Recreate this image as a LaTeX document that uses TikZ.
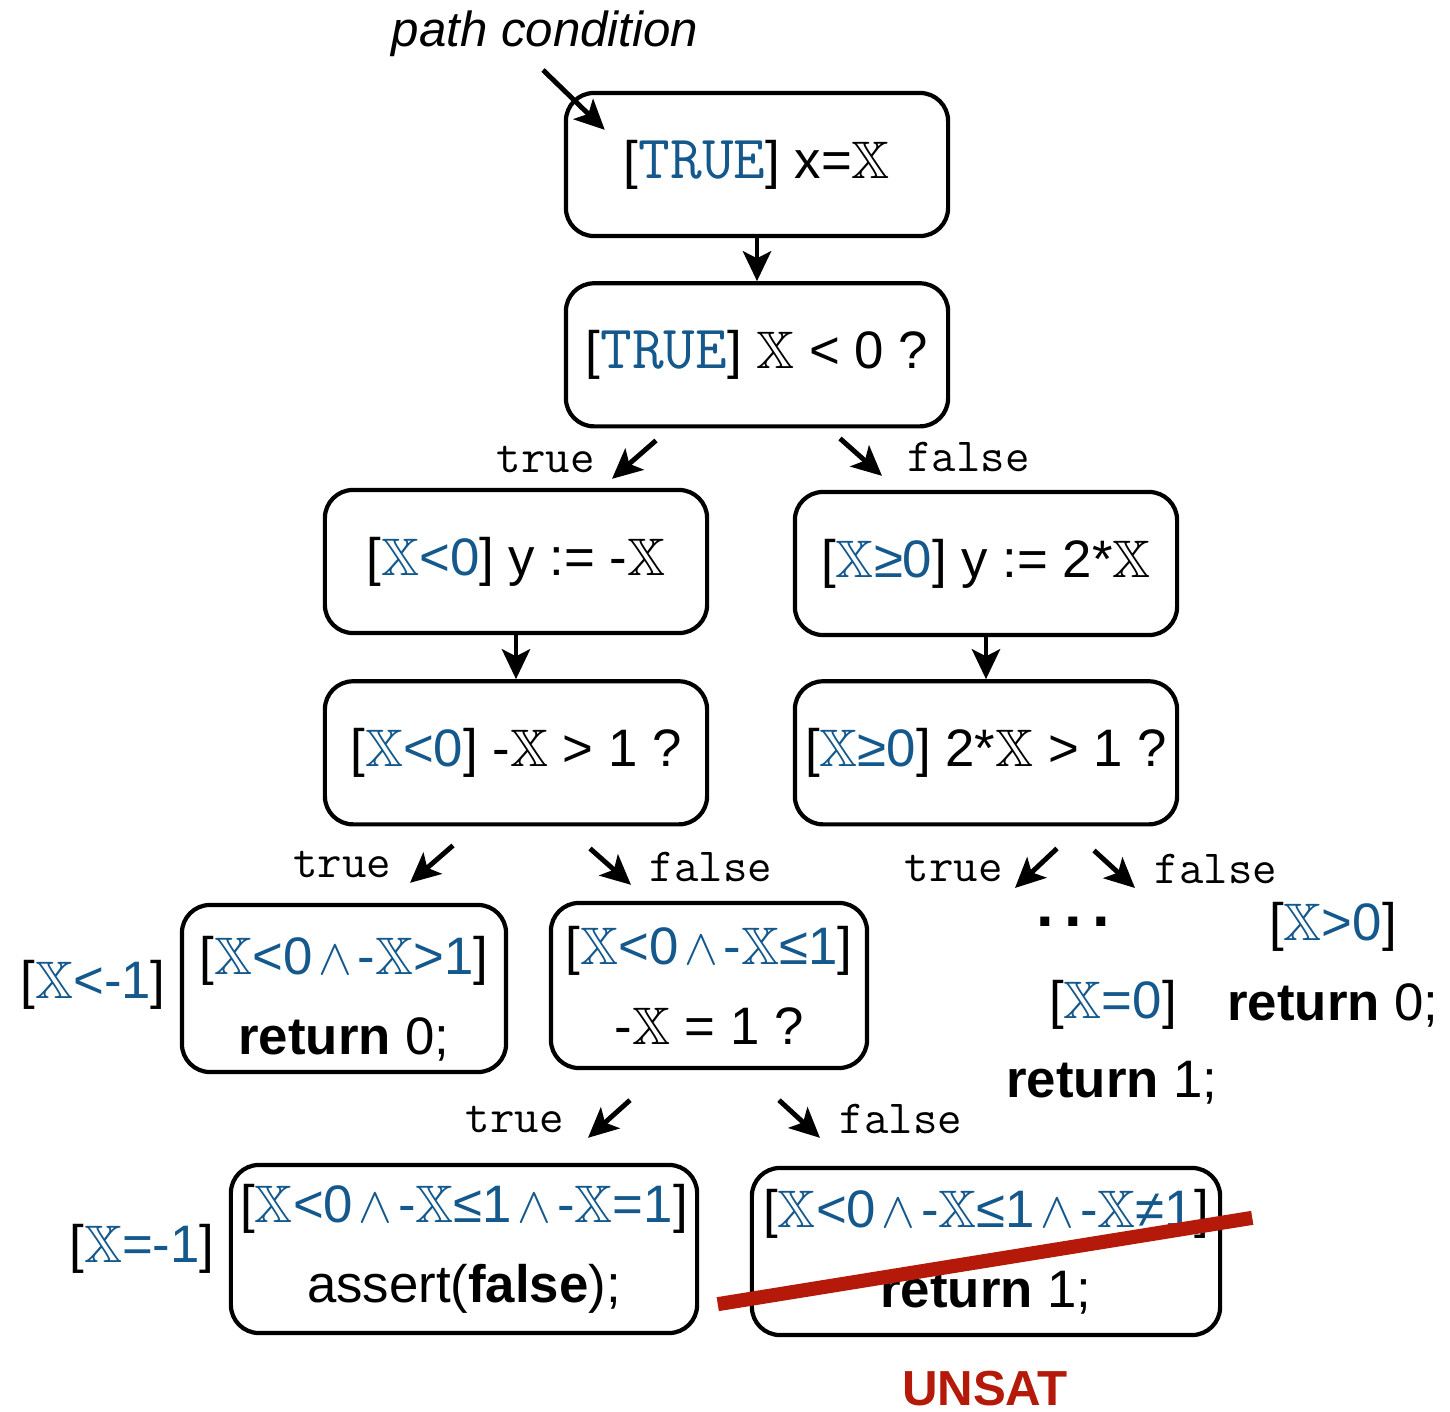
\documentclass[tikz,border=0pt]{standalone}
\usepackage{fontspec}
\setmainfont{Liberation Sans}
\usepackage{amssymb}
\usetikzlibrary{arrows.meta,positioning}

\definecolor{condblue}{RGB}{20,88,140}
\definecolor{unsatred}{RGB}{180,25,10}
\newcommand{\symX}{\ensuremath{\mathbb{X}}}
\newcommand{\andop}{\ensuremath{\mkern2mu\wedge\mkern2mu}}
\newcommand{\pcond}[1]{[\textcolor{condblue}{#1}]}
\newcommand{\tval}[1]{{\fontsize{17.5}{20}\selectfont\ttfamily #1}}

\begin{document}
\begin{tikzpicture}[
  x=0.01cm, y=-0.01cm,
  font=\fontsize{15}{22.8}\selectfont,
  box/.style={draw, line width=1.2pt, rounded corners=8pt, align=center, minimum width=3.82cm, minimum height=1.43cm, inner sep=2pt},
  side/.style={inner sep=1pt},
  arr/.style={-{Stealth[length=8.5pt,width=8pt,inset=2pt]}, line width=1.4pt},
  lbl/.style={font=\fontsize{13.5}{16}\selectfont\ttfamily, inner sep=0pt},
  strike/.style={draw=unsatred, line width=4pt}
]
\useasboundingbox (0,0) rectangle (1450,1412);

\node[font=\fontsize{14}{16}\selectfont\itshape] (pc) at (545,34) {path condition};
\node[box] (init) at (757,164.5) {\pcond{\tval{TRUE}} x=\symX};
\node[box, below=0.43cm of init] (test1) {\pcond{\tval{TRUE}} \symX{} < 0 ?};
\node[box] (neg) at (516,561.5) {\pcond{\symX<0} y := -\symX};
\node[box] (dbl) at (986,563.5) {\pcond{\symX≥0} y := 2*\symX};
\node[box, below=0.44cm of neg] (test2) {\pcond{\symX<0} -\symX{} > 1 ?};
\node[box, below=0.42cm of dbl] (test3) {\pcond{\symX≥0} 2*\symX{} > 1 ?};

% leaves of the left branch
\node[box, minimum width=3.24cm, minimum height=1.67cm] (ret0a) at (344,988.5) {\rule{0pt}{0.58cm}\pcond{\symX<0\andop-\symX>1}\\\textbf{return} 0;};
\node[side, left=0.1cm of ret0a, yshift=0.04cm] (ltm1) {\pcond{\symX<-1}};
\node[box, minimum width=3.16cm, minimum height=1.65cm] (test4) at (709,985.5) {\pcond{\symX<0\andop-\symX≤1}\\-\symX{} = 1 ?};
\node[box, minimum width=4.66cm, minimum height=1.68cm] (fail) at (464,1249) {\pcond{\symX<0\andop-\symX≤1\andop-\symX=1}\\assert(\textbf{false});};
\node[side, left=0.1cm of fail] (eqm1) {\pcond{\symX=-1}};
\node[box, minimum width=4.68cm, minimum height=1.67cm] (ret1b) at (986,1251.5) {\pcond{\symX<0\andop-\symX≤1\andop-\symX≠1}\\\textbf{return} 1;};
\node[font=\fontsize{14}{16}\selectfont\bfseries, text=unsatred] (unsat) at (985,1389) {UNSAT};

% right branch, not expanded
\node[font=\fontsize{18}{18}\selectfont\bfseries] (dots) at (1073,922) {.\,.\,.};
\node (gtz) at (1333,927) {\pcond{\symX>0}};
\node (eqz) at (1113,1005) {\pcond{\symX=0}};
\node (ret0b) at (1333,1005) {\textbf{return} 0;};
\node (ret1a) at (1112,1083) {\textbf{return} 1;};

\draw[arr] ([shift={(-2,36)}]pc.center) -- ([shift={(41,39)}]init.north west);
\draw[arr] (init) -- (test1);
\draw[arr] ([shift={(-101,12)}]test1.south) -- node[lbl, anchor=east, xshift=-0.37cm]{true} ([shift={(96,-9)}]neg.north);
\draw[arr] ([shift={(83,10)}]test1.south) -- node[lbl, anchor=west, xshift=0.44cm]{false} ([shift={(-104,-14)}]dbl.north);
\draw[arr] (neg) -- (test2);
\draw[arr] (dbl) -- (test3);
\draw[arr] ([shift={(-63,19)}]test2.south) -- node[lbl, anchor=east, xshift=-0.38cm]{true} ([shift={(66,-20)}]ret0a.north);
\draw[arr] ([shift={(74,22)}]test2.south) -- node[lbl, anchor=west, xshift=0.37cm]{false} ([shift={(-78,-16)}]test4.north);
\draw[arr] ([shift={(71,22)}]test3.south) -- node[lbl, anchor=east, xshift=-0.31cm]{true} ([shift={(-58,-34)}]dots.center);
\draw[arr] ([shift={(108,24)}]test3.south) -- node[lbl, anchor=west, xshift=0.38cm]{false} ([shift={(-198,-39)}]gtz.center);
\draw[arr] ([shift={(-79,30)}]test4.south) -- node[lbl, anchor=east, xshift=-0.43cm]{true} ([shift={(124,-25)}]fail.north);
\draw[arr] ([shift={(70,30)}]test4.south) -- node[lbl, anchor=west, xshift=0.38cm]{false} ([shift={(-166,-28)}]ret1b.north);

% infeasible path
\draw[strike] ([shift={(-32,-33)}]ret1b.south west) -- ([shift={(30,52)}]ret1b.north east);
\end{tikzpicture}
\end{document}
